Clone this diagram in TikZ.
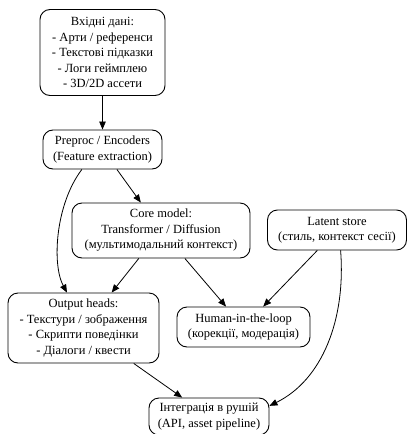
\documentclass[tikz,border=0pt]{standalone}
\usepackage{fontspec}
\setmainfont{Liberation Serif}
\usetikzlibrary{arrows.meta}
\tikzset{
  blok/.style={rounded corners=10pt, draw, black, line width=0.9pt, align=center, inner sep=1pt,
    font=\rmfamily\fontsize{12.5}{15.5}\selectfont},
  strilka/.style={-{Triangle[length=8pt,width=6.5pt]}, line width=0.8pt}
}
\begin{document}
\begin{tikzpicture}[x=1pt, y=-1pt]
            \useasboundingbox (0,0) rectangle (407,434);
            %вузли
            \draw (102.5, 52.5) node[blok, minimum width=125pt, minimum height=86pt](vhid){Вхідні дані:\\- Арти / референси\\- Текстові підказки\\- Логи геймплею\\- 3D/2D ассети}
            (102.5, 149.5) node[blok, minimum width=119pt, minimum height=39pt](preproc){Preproc / Encoders\\(Feature extraction)}
            (161, 230.5) node[blok, minimum width=178pt, minimum height=55pt](core){Core model:\\Transformer / Diffusion\\(мультимодальний контекст)}
            (337, 230) node[blok, minimum width=139pt, minimum height=40pt](latent){Latent store\\(стиль, контекст сесії)}
            (83.5, 328) node[blok, minimum width=151pt, minimum height=70pt](output){Output heads:\\- Текстури / зображення\\- Скрипти поведінки\\- Діалоги / квести}
            (243.5, 327) node[blok, minimum width=133pt, minimum height=40pt](human){Human-in-the-loop\\(корекції, модерація)}
            (209, 416.5) node[blok, minimum width=120pt, minimum height=37pt](integr){Інтеграція в рушій\\(API, asset pipeline)};

            %ребра
            \draw[strilka] (vhid) -- (preproc);
            \draw[strilka] (preproc) -- (core);
            \draw[strilka] (preproc.-136) .. controls (55,205) and (52,265) .. (output.115);
            \draw[strilka] (core) -- (output);
            \draw[strilka] (core) -- (human);
            \draw[strilka] (latent) -- (human);
            \draw[strilka] (latent.-80) .. controls (346,320) and (322,380) .. (integr.10);
            \draw[strilka] (output) -- (integr);
        \end{tikzpicture}
\end{document}
